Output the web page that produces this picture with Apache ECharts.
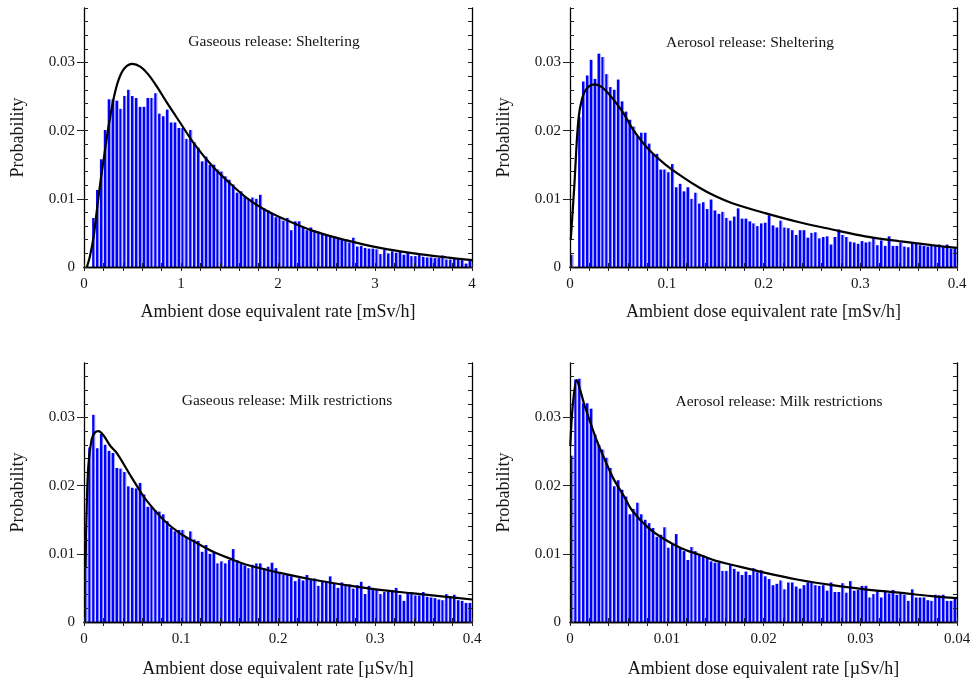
<!DOCTYPE html>
<html>
<head>
<meta charset="utf-8">
<title>Ambient dose equivalent rate distributions</title>
<script src="https://cdn.jsdelivr.net/npm/echarts@6/dist/echarts.min.js"></script>
<style>
  html, body { margin: 0; padding: 0; background: #fff; }
  #chart { width: 974px; height: 686px; }
</style>
</head>
<body>
<div id="chart"></div>
<script>
// ---- Histogram probabilities, 100 equal bins per panel ----
const gasShelterProb = [
  0.0000, 0.0000, 0.0072, 0.0113, 0.0158, 0.0201, 0.0246, 0.0246, 0.0244, 0.0232,
  0.0251, 0.0260, 0.0251, 0.0248, 0.0235, 0.0235, 0.0248, 0.0248, 0.0255, 0.0225,
  0.0221, 0.0231, 0.0212, 0.0212, 0.0204, 0.0204, 0.0188, 0.0201, 0.0183, 0.0175,
  0.0155, 0.0162, 0.0150, 0.0150, 0.0143, 0.0140, 0.0133, 0.0128, 0.0121, 0.0109,
  0.0111, 0.0103, 0.0099, 0.0102, 0.0100, 0.0106, 0.0086, 0.0083, 0.0079, 0.0073,
  0.0072, 0.0068, 0.0072, 0.0054, 0.0067, 0.0067, 0.0059, 0.0054, 0.0058, 0.0054,
  0.0052, 0.0049, 0.0046, 0.0045, 0.0045, 0.0042, 0.0041, 0.0041, 0.0036, 0.0043,
  0.0030, 0.0031, 0.0028, 0.0027, 0.0027, 0.0026, 0.0019, 0.0025, 0.0020, 0.0023,
  0.0021, 0.0022, 0.0018, 0.0021, 0.0016, 0.0016, 0.0019, 0.0015, 0.0014, 0.0014,
  0.0013, 0.0013, 0.0017, 0.0011, 0.0011, 0.0013, 0.0013, 0.0010, 0.0005, 0.0009
];
const aeroShelterProb = [
  0.0018, 0.0000, 0.0220, 0.0272, 0.0281, 0.0304, 0.0276, 0.0313, 0.0308, 0.0283,
  0.0264, 0.0260, 0.0275, 0.0243, 0.0228, 0.0216, 0.0206, 0.0192, 0.0197, 0.0197,
  0.0181, 0.0166, 0.0166, 0.0143, 0.0143, 0.0139, 0.0151, 0.0117, 0.0122, 0.0111,
  0.0117, 0.0100, 0.0109, 0.0093, 0.0095, 0.0085, 0.0099, 0.0083, 0.0078, 0.0081,
  0.0072, 0.0068, 0.0074, 0.0086, 0.0071, 0.0071, 0.0067, 0.0064, 0.0060, 0.0064,
  0.0065, 0.0076, 0.0061, 0.0058, 0.0068, 0.0058, 0.0057, 0.0054, 0.0047, 0.0054,
  0.0054, 0.0043, 0.0050, 0.0051, 0.0042, 0.0044, 0.0045, 0.0033, 0.0044, 0.0055,
  0.0047, 0.0044, 0.0037, 0.0036, 0.0034, 0.0038, 0.0036, 0.0037, 0.0044, 0.0032,
  0.0039, 0.0031, 0.0045, 0.0031, 0.0031, 0.0036, 0.0030, 0.0029, 0.0035, 0.0035,
  0.0032, 0.0031, 0.0030, 0.0031, 0.0032, 0.0033, 0.0030, 0.0033, 0.0027, 0.0027
];
const gasMilkProb = [
  0.0123, 0.0256, 0.0304, 0.0255, 0.0276, 0.0260, 0.0251, 0.0248, 0.0226, 0.0225,
  0.0220, 0.0199, 0.0197, 0.0196, 0.0204, 0.0187, 0.0169, 0.0169, 0.0164, 0.0162,
  0.0158, 0.0148, 0.0138, 0.0133, 0.0135, 0.0135, 0.0125, 0.0133, 0.0121, 0.0119,
  0.0103, 0.0113, 0.0100, 0.0102, 0.0086, 0.0089, 0.0086, 0.0091, 0.0107, 0.0091,
  0.0085, 0.0083, 0.0079, 0.0084, 0.0086, 0.0086, 0.0079, 0.0081, 0.0087, 0.0079,
  0.0073, 0.0069, 0.0069, 0.0067, 0.0060, 0.0064, 0.0061, 0.0069, 0.0062, 0.0064,
  0.0053, 0.0059, 0.0059, 0.0067, 0.0056, 0.0050, 0.0058, 0.0054, 0.0055, 0.0049,
  0.0054, 0.0059, 0.0041, 0.0053, 0.0050, 0.0047, 0.0041, 0.0044, 0.0044, 0.0047,
  0.0050, 0.0040, 0.0031, 0.0044, 0.0044, 0.0039, 0.0039, 0.0044, 0.0037, 0.0036,
  0.0035, 0.0033, 0.0032, 0.0041, 0.0038, 0.0040, 0.0032, 0.0031, 0.0028, 0.0028
];
const aeroMilkProb = [
  0.0244, 0.0356, 0.0357, 0.0321, 0.0321, 0.0313, 0.0275, 0.0260, 0.0253, 0.0241,
  0.0226, 0.0199, 0.0208, 0.0194, 0.0184, 0.0158, 0.0166, 0.0175, 0.0158, 0.0150,
  0.0145, 0.0138, 0.0125, 0.0128, 0.0139, 0.0109, 0.0114, 0.0129, 0.0109, 0.0104,
  0.0091, 0.0110, 0.0104, 0.0100, 0.0098, 0.0094, 0.0089, 0.0087, 0.0087, 0.0075,
  0.0075, 0.0084, 0.0078, 0.0074, 0.0069, 0.0074, 0.0069, 0.0079, 0.0073, 0.0076,
  0.0067, 0.0063, 0.0054, 0.0056, 0.0061, 0.0048, 0.0058, 0.0058, 0.0052, 0.0049,
  0.0054, 0.0058, 0.0058, 0.0054, 0.0053, 0.0054, 0.0046, 0.0058, 0.0044, 0.0044,
  0.0057, 0.0043, 0.0060, 0.0046, 0.0047, 0.0053, 0.0053, 0.0036, 0.0041, 0.0046,
  0.0036, 0.0044, 0.0042, 0.0047, 0.0040, 0.0042, 0.0040, 0.0031, 0.0048, 0.0036,
  0.0036, 0.0036, 0.0032, 0.0031, 0.0040, 0.0039, 0.0040, 0.0031, 0.0031, 0.0035
];

// ---- Fitted distribution curves: dose rate and probability ----
const gasShelterFitX = [0.03, 0.06, 0.10, 0.13, 0.165, 0.21, 0.26, 0.31, 0.36, 0.42, 0.50, 0.58, 0.66, 0.75,
  0.86, 0.99, 1.14, 1.33, 1.51, 1.68, 1.85, 2.02, 2.36, 2.71, 3.05, 3.40, 3.74, 4.0];
const gasShelterFitY = [0, 0.0015, 0.0045, 0.0080, 0.0120, 0.0165, 0.0212, 0.0250, 0.0276, 0.0292, 0.0298, 0.0294,
  0.0283, 0.0265, 0.0240, 0.0212, 0.0180, 0.0147, 0.0122, 0.0101, 0.0085, 0.0073, 0.0053, 0.0039, 0.0028,
  0.0020, 0.0014, 0.0010];

const aeroShelterFitX = [0.0008, 0.0045, 0.0086, 0.0125, 0.018, 0.026, 0.033, 0.040, 0.048, 0.056, 0.065, 0.081,
  0.098, 0.1155, 0.133, 0.150, 0.167, 0.2017, 0.236, 0.271, 0.305, 0.340, 0.374, 0.400];
const aeroShelterFitY = [0.0040, 0.0120, 0.0215, 0.0247, 0.0263, 0.0268, 0.0264, 0.0254, 0.0240, 0.0224, 0.0202,
  0.0173, 0.0151, 0.0133, 0.0117, 0.0104, 0.0094, 0.0079, 0.0066, 0.0055, 0.0045, 0.0038, 0.0032, 0.0028];

const gasMilkFitX = [0.0015, 0.0025, 0.0044, 0.0079, 0.0113, 0.0148, 0.020, 0.0268, 0.0337, 0.0474, 0.057,
  0.0646, 0.0818, 0.099, 0.1162, 0.1333, 0.1505, 0.1677, 0.202, 0.2364, 0.2708, 0.3052, 0.3395, 0.3739, 0.400];
const gasMilkFitY = [0.0080, 0.0150, 0.0228, 0.0268, 0.0278, 0.0280, 0.0274, 0.0259, 0.0248, 0.0216, 0.0194,
  0.0178, 0.0150, 0.0130, 0.0116, 0.0103, 0.0093, 0.0084, 0.0072, 0.0062, 0.0054, 0.0047, 0.0042, 0.0037, 0.0033];

const aeroMilkFitX = [0.00003, 0.0003, 0.0007, 0.0011, 0.0015, 0.0021, 0.0028, 0.0036, 0.0045, 0.0056, 0.0064,
  0.0081, 0.0098, 0.01155, 0.0133, 0.015, 0.0167, 0.0202, 0.0236, 0.0271, 0.0305, 0.034, 0.0374, 0.04];
const aeroMilkFitY = [0.0258, 0.0320, 0.0355, 0.0338, 0.0318, 0.0293, 0.0265, 0.0238, 0.0210, 0.0184, 0.0164,
  0.0138, 0.0121, 0.0108, 0.0099, 0.0090, 0.0084, 0.0072, 0.0062, 0.0054, 0.0048, 0.0043, 0.0038, 0.0035];

// ---- Tick labels and texts ----
const probTicks = [0, 0.01, 0.02, 0.03];
const mSvTicks = [0, 1, 2, 3, 4];
const aeroShelterTicks = [0, 0.1, 0.2, 0.3, 0.4];
const gasMilkTicks = [0, 0.1, 0.2, 0.3, 0.4];
const aeroMilkTicks = [0, 0.01, 0.02, 0.03, 0.04];
const panelTitles = [
  'Gaseous release: Sheltering',
  'Aerosol release: Sheltering',
  'Gaseous release: Milk restrictions',
  'Aerosol release: Milk restrictions'
];
const xAxisTitles = [
  'Ambient dose equivalent rate [mSv/h]',
  'Ambient dose equivalent rate [mSv/h]',
  'Ambient dose equivalent rate [\u00b5Sv/h]',
  'Ambient dose equivalent rate [\u00b5Sv/h]'
];
const yAxisTitle = 'Probability';

// ---- Panel layout ----
const SERIF = '"Liberation Serif", "DejaVu Serif", serif';
const TEXT = '#151515';
const Y_MAX = 0.038;

const panels = [
  { box: { left: 84, top: 8, width: 388, height: 259 }, xMax: 4, minor: 0.2, bin: 0.04,
    ticks: mSvTicks, prob: gasShelterProb, fitX: gasShelterFitX, fitY: gasShelterFitY,
    titleAt: [274, 42], nameGap: 36 },
  { box: { left: 570, top: 8, width: 387, height: 259 }, xMax: 0.4, minor: 0.02, bin: 0.004,
    ticks: aeroShelterTicks, prob: aeroShelterProb, fitX: aeroShelterFitX, fitY: aeroShelterFitY,
    titleAt: [750, 43], nameGap: 36 },
  { box: { left: 84, top: 363, width: 388, height: 259 }, xMax: 0.4, minor: 0.02, bin: 0.004,
    ticks: gasMilkTicks, prob: gasMilkProb, fitX: gasMilkFitX, fitY: gasMilkFitY,
    titleAt: [287, 401], nameGap: 38 },
  { box: { left: 570, top: 363, width: 387, height: 259 }, xMax: 0.04, minor: 0.002, bin: 0.0004,
    ticks: aeroMilkTicks, prob: aeroMilkProb, fitX: aeroMilkFitX, fitY: aeroMilkFitY,
    titleAt: [779, 402], nameGap: 38 }
];

const frameLine = { show: true, lineStyle: { color: '#000', width: 1.3 } };
const innerTick = () => ({ show: true, inside: true, length: 4, lineStyle: { color: '#222', width: 1 } });
const barFill = {
  type: 'linear', x: 0, y: 0, x2: 1, y2: 0,
  colorStops: [
    { offset: 0, color: '#0000ff' }, { offset: 0.68, color: '#0000ff' },
    { offset: 0.68, color: '#7878ff' }, { offset: 1, color: '#7878ff' }
  ]
};

const grid = [], xAxis = [], yAxis = [], series = [], graphic = [];

panels.forEach((p, g) => {
  grid.push(Object.assign({ containLabel: false }, p.box));

  const xMain = xAxis.length;
  // bottom axis: labels + inner minor ticks
  xAxis.push({
    gridIndex: g, type: 'value', position: 'bottom', min: 0, max: p.xMax, interval: p.minor,
    axisLine: frameLine, axisTick: innerTick(), splitLine: { show: false },
    axisLabel: { customValues: p.ticks, margin: 10, fontFamily: SERIF, fontSize: 15, color: TEXT },
    name: xAxisTitles[g], nameLocation: 'middle', nameGap: p.nameGap,
    nameTextStyle: { fontFamily: SERIF, fontSize: 18, color: TEXT }, z: 3
  });
  // top frame axis
  xAxis.push({
    gridIndex: g, type: 'value', position: 'top', min: 0, max: p.xMax, interval: p.minor,
    axisLine: frameLine, axisTick: innerTick(), axisLabel: { show: false }, splitLine: { show: false }, z: 3
  });

  const yMain = yAxis.length;
  // left axis: labels + inner minor ticks
  yAxis.push({
    gridIndex: g, type: 'value', position: 'left', min: 0, max: Y_MAX, interval: 0.002,
    axisLine: frameLine, axisTick: innerTick(), splitLine: { show: false },
    axisLabel: { customValues: probTicks, margin: 9, fontFamily: SERIF, fontSize: 15, color: TEXT },
    name: yAxisTitle, nameLocation: 'middle', nameGap: 57, nameRotate: 90,
    nameTextStyle: { fontFamily: SERIF, fontSize: 18, color: TEXT }, z: 3
  });
  // left axis: outward major ticks
  yAxis.push({
    gridIndex: g, type: 'value', position: 'left', min: 0, max: Y_MAX,
    axisLine: { show: false }, splitLine: { show: false }, axisLabel: { show: false },
    axisTick: { show: true, inside: false, length: 7, customValues: [0.01, 0.02, 0.03],
      lineStyle: { color: '#222', width: 1 } }, z: 3
  });
  // right frame axis
  yAxis.push({
    gridIndex: g, type: 'value', position: 'right', min: 0, max: Y_MAX, interval: 0.002,
    axisLine: frameLine, axisTick: innerTick(), axisLabel: { show: false }, splitLine: { show: false }, z: 3
  });

  series.push({
    type: 'bar', xAxisIndex: xMain, yAxisIndex: yMain, barWidth: 3.1,
    data: p.prob.map((v, i) => [(i + 0.5) * p.bin, v]),
    itemStyle: { color: barFill }, z: 2, animation: false
  });
  series.push({
    type: 'line', xAxisIndex: xMain, yAxisIndex: yMain, smooth: 0.35, showSymbol: false,
    data: p.fitX.map((x, i) => [x, p.fitY[i]]),
    lineStyle: { color: '#000', width: 2.2 }, z: 5, animation: false
  });

  graphic.push({
    type: 'text', x: p.titleAt[0], y: p.titleAt[1], z: 10,
    style: { text: panelTitles[g], font: '15.5px ' + SERIF, fill: TEXT, align: 'center', verticalAlign: 'middle' }
  });
});

const chart = echarts.init(document.getElementById('chart'), null, { renderer: 'canvas' });
chart.setOption({
  animation: false,
  backgroundColor: '#fff',
  grid, xAxis, yAxis, series, graphic
});
</script>
</body>
</html>
